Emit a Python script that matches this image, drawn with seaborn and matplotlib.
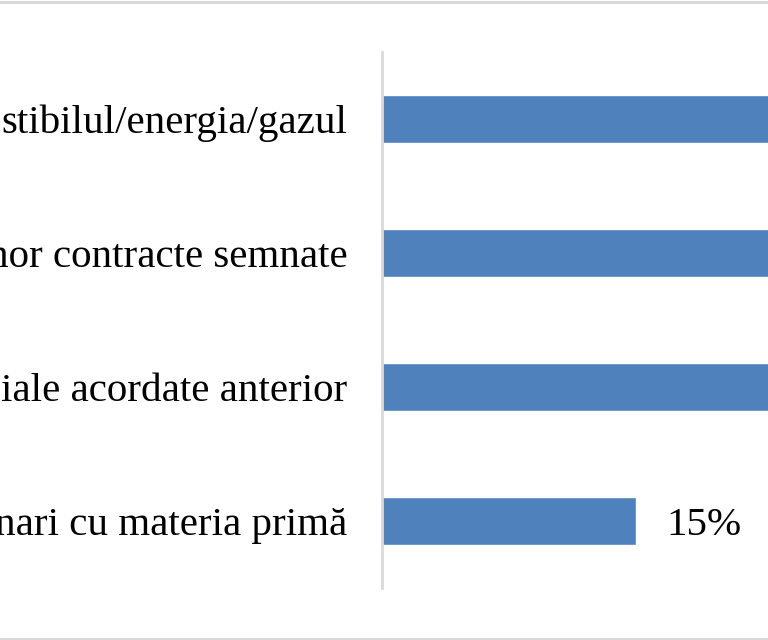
import matplotlib
matplotlib.use("Agg")
import matplotlib.pyplot as plt
import seaborn as sns
import pandas as pd
from matplotlib.lines import Line2D

# Visible (cropped) category labels, top to bottom
categories = [
    "stibilul/energia/gazul",
    "nor contracte semnate",
    "iale acordate anterior",
    "nari cu materia primă",
]
# Percent values (only 15% is readable; others extend past the crop)
values = [45, 38, 32, 15]
value_labels = ["45%", "38%", "32%", "15%"]

df = pd.DataFrame({"cat": categories, "val": values})

sns.set_theme(style="white")
plt.rcParams["font.family"] = ["Liberation Serif", "DejaVu Serif"]

fig = plt.figure(figsize=(7.68, 6.4), dpi=100)
ax = fig.add_axes([382 / 768, 52 / 640, 1 - 382 / 768, (588 - 52) / 640])

sns.barplot(data=df, x="val", y="cat", orient="h", color="#4F81BD",
            saturation=1, width=0.36, ax=ax)

ax.set_xlim(0, 22.8)
ax.set_ylim(3.5, -0.5)
ax.set_xlabel("")
ax.set_ylabel("")
ax.set_xticks([])
ax.tick_params(axis="y", length=0, pad=25, labelsize=29.5, labelcolor="black")
for s in ["top", "right", "bottom"]:
    ax.spines[s].set_visible(False)
ax.spines["left"].set_color("#D9D9D9")
ax.spines["left"].set_linewidth(2)

for i, (v, lab) in enumerate(zip(values, value_labels)):
    ax.annotate(lab, xy=(v, i), xytext=(22, -3), textcoords="offset points",
                va="center", ha="left", fontsize=29.5, color="black",
                annotation_clip=True)

# light grey frame lines at top and bottom
fig.add_artist(Line2D([0, 1], [1 - 1.5 / 640, 1 - 1.5 / 640], color="#D9D9D9",
                      linewidth=2.2, transform=fig.transFigure))
fig.add_artist(Line2D([0, 1], [1.5 / 640, 1.5 / 640], color="#D9D9D9",
                      linewidth=2.2, transform=fig.transFigure))

fig.savefig("out.png", dpi=100, facecolor="white")
